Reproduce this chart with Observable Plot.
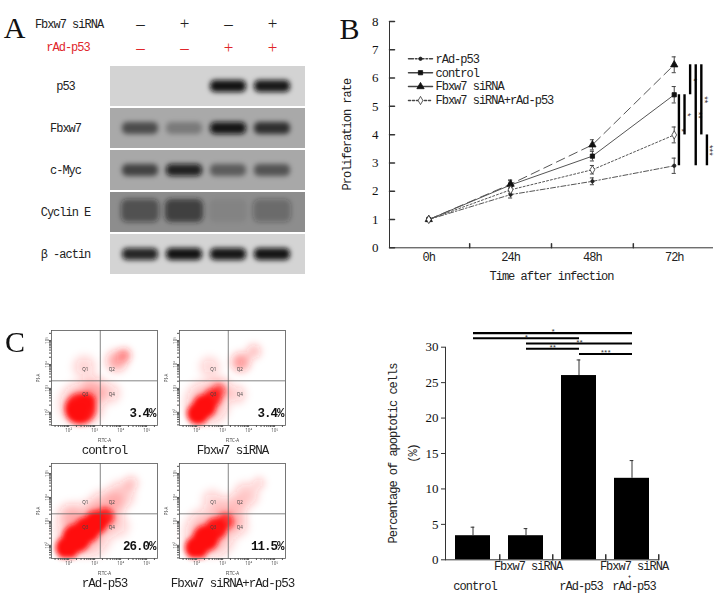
<!DOCTYPE html>
<html><head><meta charset="utf-8">
<script src="https://cdn.jsdelivr.net/npm/d3@7"></script>
<script src="https://cdn.jsdelivr.net/npm/@observablehq/plot@0.6"></script>
<style>
html,body{margin:0;padding:0;background:#fff;}
#fig{position:relative;width:723px;height:599px;overflow:hidden;background:#fff;}
#fig > div{position:absolute;}
#fig svg{overflow:visible;display:block;}
g[font-family="Liberation Mono"]{letter-spacing:-1px;}
</style></head><body><div id="fig"></div>
<script>
// ---------------- DATA ----------------
// Panel A: western blot
const lanes = ["1", "2", "3", "4"];
const siRNASigns = ["–", "+", "–", "+"];
const rAdSigns = ["–", "–", "+", "+"];
const proteins = ["p53", "Fbxw7", "c-Myc", "Cyclin E", "β -actin"];
const blotBackground = ["#d3d3d3", "#a9a9a9", "#a8a8a8", "#8d8d8d", "#d4d4d4"];
const bandP53 = [0, 0, 0.97, 0.94];
const bandFbxw7 = [0.55, 0.28, 0.95, 0.72];
const bandCMyc = [0.6, 0.88, 0.45, 0.5];
const bandCyclinE = [0.5, 0.68, 0.07, 0.3];
const bandActin = [0.88, 0.97, 0.95, 0.96];

// Panel B: proliferation
const timeLabels = ["0h", "24h", "48h", "72h"];
const seriesNames = ["rAd-p53", "control", "Fbxw7 siRNA", "Fbxw7 siRNA+rAd-p53"];
const rAdP53Rate = [1.00, 1.88, 2.35, 2.90];
const rAdP53Err = [0, 0.12, 0.12, 0.27];
const controlRate = [1.00, 2.22, 3.24, 5.41];
const controlErr = [0, 0.15, 0.17, 0.29];
const fbxw7Rate = [1.00, 2.25, 3.64, 6.47];
const fbxw7Err = [0, 0.15, 0.18, 0.28];
const comboRate = [1.00, 2.05, 2.76, 3.99];
const comboErr = [0, 0.12, 0.15, 0.28];
const yTicksB = [0, 1, 2, 3, 4, 5, 6, 7, 8];
// significance brackets at 72h: [series a, series b, label]
const sigB = [
  ["control", "rAd-p53", "*"],
  ["control", "Fbxw7 siRNA+rAd-p53", "*"],
  ["Fbxw7 siRNA", "control", "*"],
  ["Fbxw7 siRNA", "rAd-p53", "**"],
  ["Fbxw7 siRNA", "Fbxw7 siRNA+rAd-p53", "**"],
  ["Fbxw7 siRNA+rAd-p53", "rAd-p53", "***"]
];

// Panel C: apoptosis
const groups = ["control", "Fbxw7 siRNA", "rAd-p53", "Fbxw7 siRNA+rAd-p53"];
const apoptosis = [3.4, 3.4, 26.0, 11.5];
const apoptosisErr = [1.2, 1.0, 2.2, 2.5];
const groupLabelTop = ["", "Fbxw7 siRNA", "", "Fbxw7 siRNA"];
const groupLabelJoin = ["", "", "", "+"];
const groupLabelBottom = ["control", "", "rAd-p53", "rAd-p53"];
const yTicksC = [0, 5, 10, 15, 20, 25, 30];
const sigC = [
  ["control", "Fbxw7 siRNA+rAd-p53", "*"],
  ["control", "rAd-p53", "*"],
  ["Fbxw7 siRNA", "Fbxw7 siRNA+rAd-p53", "**"],
  ["Fbxw7 siRNA", "rAd-p53", "**"],
  ["rAd-p53", "Fbxw7 siRNA+rAd-p53", "***"]
];

// Panel C: flow cytometry (Annexin V-FITC / PI)
const flowTitles = ["control", "Fbxw7 siRNA", "rAd-p53", "Fbxw7 siRNA+rAd-p53"];
const flowCol = [0, 1, 0, 1];
const flowRow = [0, 0, 1, 1];
const flowPercent = ["3.4%", "3.4%", "26.0%", "11.5%"];
const gateFITC = 1650, gatePI = 2075;
const quadrantNames = ["Q1", "Q2", "Q3", "Q4"];
const quadrantFITC = [440, 4600, 440, 4600];
const quadrantPI = [6300, 6300, 550, 550];
// event clouds: [log10 FITC, log10 PI, spread (decades), density]
const controlCloud = [[2.5,2.35,1.05,0.45],[3.0,3.0,0.65,0.3],[2.6,3.9,0.6,0.22],[3.6,2.8,0.55,0.22],[3.85,4.15,0.55,0.45],[4.15,4.4,0.35,0.55],[2.45,2.15,0.6,0.9],[2.35,2.05,0.45,1],[2.7,2.45,0.35,0.9]];
const fbxw7Cloud = [[2.4,2.4,1.05,0.42],[2.9,3.0,0.6,0.3],[2.5,3.9,0.55,0.2],[3.55,2.75,0.5,0.22],[3.7,4.1,0.5,0.5],[4.2,4.55,0.4,0.3],[2.05,1.95,0.42,1],[2.3,2.25,0.45,1],[2.6,2.6,0.35,0.85],[2.85,2.9,0.25,0.6]];
const rAdCloud = [[2.6,2.6,1.3,0.45],[3.4,3.5,0.9,0.4],[4.0,4.1,0.7,0.3],[2.0,3.3,0.6,0.2],[3.9,2.8,0.6,0.2],[4.4,4.6,0.4,0.25],[1.95,1.9,0.45,1],[2.3,2.3,0.55,1],[2.7,2.65,0.5,1],[3.05,2.95,0.45,1],[3.4,3.2,0.35,0.85]];
const comboCloud = [[2.5,2.5,1.2,0.45],[3.3,3.4,0.8,0.36],[3.9,4.1,0.65,0.28],[2.6,3.9,0.55,0.2],[3.6,2.8,0.55,0.22],[4.4,4.6,0.35,0.2],[2.0,1.9,0.45,1],[2.35,2.3,0.5,1],[2.75,2.7,0.42,0.95],[3.1,3.0,0.32,0.75]];

// ---------------- HELPERS ----------------
const SERIF = "Liberation Serif", MONO = "Liberation Mono";
const fig = document.getElementById("fig");
function place(svg, left, top) {
  const d = document.createElement("div");
  d.style.left = left + "px"; d.style.top = top + "px";
  d.appendChild(svg); fig.appendChild(d); return svg;
}
function defs(svg) {
  const s = d3.select(svg);
  let g = s.select("defs");
  if (g.empty()) g = s.insert("defs", ":first-child");
  return g;
}
function blur(svg, id, sd, groups) {
  defs(svg).append("filter").attr("id", id)
    .attr("x", "-40%").attr("y", "-40%").attr("width", "180%").attr("height", "180%")
    .append("feGaussianBlur").attr("stdDeviation", sd);
  groups.forEach(g => d3.select(g).attr("filter", `url(#${id})`));
}
const tickShape = {draw(ctx, l) { ctx.moveTo(0, 0); ctx.lineTo(0, -l); }};

// ---------------- PANEL A ----------------
const bandLevels = [bandP53, bandFbxw7, bandCMyc, bandCyclinE, bandActin];
const rowsA = proteins.map((p, i) => ({protein: p, bg: blotBackground[i]}));
const bandsA = proteins.flatMap((p, r) => lanes.map((l, i) => ({protein: p, lane: l, v: bandLevels[r][i]})));
const svgA = Plot.plot({
  width: 330, height: 290, marginLeft: 110, marginRight: 25, marginTop: 64, marginBottom: 14,
  x: {type: "band", domain: lanes, paddingInner: 0, paddingOuter: 0.186, align: 0.4, axis: null},
  y: {type: "band", domain: proteins, paddingInner: 0.05, paddingOuter: 0, axis: null},
  color: {type: "identity"},
  opacity: {type: "identity"},
  marks: [
    Plot.cell(rowsA, {y: "protein", fill: "bg"}),
    Plot.cell(bandsA.filter(d => d.protein !== "Cyclin E"), {x: "lane", y: "protein", fill: "#080808", fillOpacity: "v",
      insetLeft: 4, insetRight: 4, insetTop: 14, insetBottom: 14, rx: 5}),
    Plot.cell(bandsA.filter(d => d.protein === "Cyclin E"), {x: "lane", y: "protein", fill: "#181818", fillOpacity: "v",
      insetLeft: 3, insetRight: 3, insetTop: 7, insetBottom: 10, rx: 6}),
    Plot.text(proteins, {y: d => d, text: d => d, frameAnchor: "left", dx: -45, textAnchor: "middle", lineAnchor: "middle",
      fontFamily: MONO, fontSize: 12, fill: "#222"}),
    Plot.text(lanes, {x: d => d, text: (d, i) => siRNASigns[i], frameAnchor: "top", dy: -40.7, textAnchor: "middle", lineAnchor: "middle",
      fontFamily: SERIF, fontSize: 17, fill: "#222"}),
    Plot.text(lanes, {x: d => d, text: (d, i) => rAdSigns[i], frameAnchor: "top", dy: -17.3, textAnchor: "middle", lineAnchor: "middle",
      fontFamily: SERIF, fontSize: 17, fill: "#e0262b"}),
    Plot.text(["Fbxw7 siRNA"], {text: d => d, frameAnchor: "top-left", dx: -41.5, dy: -40.7, textAnchor: "middle", lineAnchor: "middle",
      fontFamily: MONO, fontSize: 12, fill: "#222"}),
    Plot.text(["rAd-p53"], {text: d => d, frameAnchor: "top-left", dx: -42.5, dy: -17.3, textAnchor: "middle", lineAnchor: "middle",
      fontFamily: MONO, fontSize: 12, fill: "#e0262b"}),
    Plot.text(["A"], {text: d => d, frameAnchor: "top-left", dx: -96, dy: -35.7, textAnchor: "middle", lineAnchor: "middle",
      fontFamily: SERIF, fontSize: 30, fill: "#111"})
  ]
});
place(svgA, 0, 0);
blur(svgA, "blurA", 2.4, Array.from(svgA.querySelectorAll('g[aria-label="cell"]')).slice(1));

// ---------------- PANEL B ----------------
const ratesB = [rAdP53Rate, controlRate, fbxw7Rate, comboRate];
const errsB = [rAdP53Err, controlErr, fbxw7Err, comboErr];
const styleB = [
  {dash: "5,2,1.5,2", legendDash: "5,2,1.5,2", symbol: "circle", r: 1.7, fill: "#222", stroke: "#222"},
  {dash: null, legendDash: null, symbol: "square", r: 2.4, fill: "#111", stroke: "#111"},
  {dash: "9,5", legendDash: null, symbol: "triangle", r: 2.7, fill: "#111", stroke: "#111"},
  {dash: "2,2", legendDash: "2,2", symbol: "diamond", r: 2.5, fill: "white", stroke: "#333"}
];
const ptsB = seriesNames.map((name, s) => ratesB[s].map((v, t) => ({name, t, v, e: errsB[s][t]})));
const xDomB = [-0.48, 3.48];
const marksB = [
  Plot.ruleY([0], {stroke: "#333"}),
  Plot.ruleX([xDomB[0]], {stroke: "#333"}),
  Plot.vector(yTicksB, {x: () => xDomB[0], y: d => d, length: 5, rotate: 90, anchor: "start", shape: tickShape, stroke: "#333"}),
  Plot.vector([0.5, 1.5, 2.5], {x: d => d, y: () => 0, length: 4, anchor: "start", shape: tickShape, stroke: "#333"}),
  Plot.axisY({ticks: yTicksB, tickSize: 0, tickPadding: 11, fontFamily: SERIF, fontSize: 13, label: null, fill: "#111"}),
  Plot.axisX({ticks: [0, 1, 2, 3], tickFormat: i => timeLabels[i], tickSize: 0, tickPadding: 5, fontFamily: MONO, fontSize: 12, label: null, fill: "#222"})
];
ptsB.forEach((pts, s) => {
  const st = styleB[s];
  marksB.push(
    Plot.line(pts, {x: "t", y: "v", stroke: "#555", strokeWidth: 1, strokeDasharray: st.dash}),
    Plot.ruleX(pts.filter(d => d.e > 0), {x: "t", y1: d => d.v - d.e, y2: d => d.v + d.e, stroke: "#444"}),
    Plot.ruleY(pts.filter(d => d.e > 0), {y: d => d.v + d.e, x1: d => d.t - 0.025, x2: d => d.t + 0.025, stroke: "#444"}),
    Plot.ruleY(pts.filter(d => d.e > 0), {y: d => d.v - d.e, x1: d => d.t - 0.025, x2: d => d.t + 0.025, stroke: "#444"}),
    Plot.dot(pts, {x: "t", y: "v", symbol: st.symbol, r: st.r, fill: st.fill, stroke: st.stroke, strokeWidth: 0.8})
  );
  // legend row
  const dy = 37.3 + 13.9 * s;
  marksB.push(
    Plot.vector([seriesNames[s]], {frameAnchor: "top-left", dx: 31, dy, length: 24, rotate: 90, anchor: "middle", shape: tickShape,
      stroke: "#444", strokeDasharray: st.legendDash}),
    Plot.dot([seriesNames[s]], {frameAnchor: "top-left", dx: 31, dy, symbol: st.symbol, r: st.r, fill: st.fill, stroke: st.stroke, strokeWidth: 0.8}),
    Plot.text([seriesNames[s]], {text: d => d, frameAnchor: "top-left", dx: 46, dy, textAnchor: "start", lineAnchor: "middle",
      fontFamily: MONO, fontSize: 12, fill: "#222"})
  );
});
const at72 = name => ratesB[seriesNames.indexOf(name)][3];
sigB.forEach(([a, b, lab], i) => {
  const dx = 4.7 + 5.6 * i;
  const rec = {y1: at72(a), y2: at72(b)};
  marksB.push(
    Plot.ruleX([rec], {x: () => 3, y1: "y1", y2: "y2", dx, stroke: "#000", strokeWidth: 2.4}),
    Plot.text([rec], {x: () => 3, y: d => (d.y1 + d.y2) / 2, text: () => lab, dx: dx + 3.6, rotate: 90,
      textAnchor: "middle", lineAnchor: "middle", fontSize: 6.5, fill: "#222"})
  );
});
marksB.push(
  Plot.text(["Proliferation rate"], {text: d => d, frameAnchor: "left", dx: -42, rotate: -90, textAnchor: "middle", lineAnchor: "middle",
    fontFamily: MONO, fontSize: 12, fill: "#222"}),
  Plot.text(["Time after infection"], {text: d => d, frameAnchor: "bottom", dy: 28.7, textAnchor: "middle", lineAnchor: "middle",
    fontFamily: MONO, fontSize: 12, fill: "#222"}),
  Plot.text(["B"], {text: d => d, frameAnchor: "top-left", dx: -40, dy: 7.7, textAnchor: "middle", lineAnchor: "middle",
    fontFamily: SERIF, fontSize: 30, fill: "#111"})
);
const svgB = Plot.plot({
  width: 393, height: 290, marginLeft: 59, marginRight: 10, marginTop: 21, marginBottom: 42.7,
  x: {domain: xDomB},
  y: {domain: [0, 8]},
  marks: marksB
});
place(svgB, 330, 0);

// ---------------- PANEL C: bar chart ----------------
const dataC = groups.map((g, i) => ({g, v: apoptosis[i], e: apoptosisErr[i]}));
const wC = 343, mlC = 65, mrC = 64, piC = 0.34, poC = 0.17;
const stepC = (wC - mlC - mrC) / (groups.length - piC + 2 * poC);
const marksC = [
  Plot.barY(dataC, {x: "g", y: "v", fill: "#000"}),
  Plot.ruleX(dataC, {x: "g", y1: "v", y2: d => d.v + d.e, stroke: "#333"}),
  Plot.tickY(dataC, {x: "g", y: d => d.v + d.e, inset: stepC * (1 - piC) / 2 - 2, stroke: "#333"}),
  Plot.ruleY([0], {stroke: "#333"}),
  Plot.frame({anchor: "left", stroke: "#333"}),
  Plot.vector(groups, {x: d => d, y: () => 0, dx: stepC / 2, length: 5, anchor: "start", shape: tickShape, stroke: "#333"}),
  Plot.axisY({ticks: yTicksC, tickSize: 4, tickPadding: 3, fontFamily: SERIF, fontSize: 13, label: null, fill: "#111", stroke: "#333"}),
  Plot.text(groups, {x: d => d, text: (d, i) => groupLabelTop[i], frameAnchor: "bottom", dy: 6.4, dx: 2, textAnchor: "middle", lineAnchor: "middle",
    fontFamily: MONO, fontSize: 12, fill: "#222"}),
  Plot.text(groups, {x: d => d, text: (d, i) => groupLabelJoin[i], frameAnchor: "bottom", dy: 16.9, dx: -3, textAnchor: "middle", lineAnchor: "middle",
    fontFamily: MONO, fontSize: 5, fontWeight: "bold", fill: "#222"}),
  Plot.text(groups, {x: d => d, text: (d, i) => groupLabelBottom[i], frameAnchor: "bottom", dy: 26.7, dx: 2, textAnchor: "middle", lineAnchor: "middle",
    fontFamily: MONO, fontSize: 12, fill: "#222"}),
  Plot.text(["Percentage of apoptotic cells"], {text: d => d, frameAnchor: "left", dx: -52, rotate: -90, textAnchor: "middle", lineAnchor: "middle",
    fontFamily: MONO, fontSize: 12, fill: "#222"}),
  Plot.text(["(%)"], {text: d => d, frameAnchor: "left", dx: -32, rotate: -90, textAnchor: "middle", lineAnchor: "middle",
    fontFamily: MONO, fontSize: 12, fill: "#222"})
];
sigC.forEach(([a, b, lab], i) => {
  const level = 32.0 - 0.74 * i;
  const half = (groups.indexOf(b) - groups.indexOf(a)) * stepC / 2;
  marksC.push(
    Plot.link([lab], {x1: () => a, x2: () => b, y1: () => level, y2: () => level, stroke: "#000", strokeWidth: 2.2}),
    Plot.text([lab], {x: () => a, y: () => level, text: d => d, dx: half, dy: -1.5, textAnchor: "middle", lineAnchor: "middle",
      fontSize: 6, fill: "#222"})
  );
});
const svgC = Plot.plot({
  width: wC, height: 309, marginLeft: mlC, marginRight: mrC, marginTop: 56.7, marginBottom: 39.7,
  x: {type: "band", domain: groups, paddingInner: piC, paddingOuter: poC, axis: null},
  y: {domain: [0, 30]},
  marks: marksC
});
place(svgC, 380, 290);

// ---------------- PANEL C: flow cytometry ----------------
const clouds = [controlCloud, fbxw7Cloud, rAdCloud, comboCloud];
const events = clouds.flatMap((c, p) => c.map(([lx, ly, spread, density]) => ({col: flowCol[p], row: flowRow[p], lx, ly, spread, density})));
const halo = events.filter(d => d.density < 0.6);
const core = events.filter(d => d.density >= 0.6);
const panels = flowTitles.map((t, p) => ({title: t, col: flowCol[p], row: flowRow[p], pct: flowPercent[p]}));
const supers = {1: "¹", 2: "²", 3: "³", 4: "⁴", 5: "⁵"};
const powLabel = d => { const l = Math.log10(d); return Math.abs(l - Math.round(l)) < 1e-6 ? "10" + (supers[Math.round(l)] || "") : ""; };
const svgF = Plot.plot({
  width: 300, height: 284, marginLeft: 51, marginRight: 14, marginTop: 14.3, marginBottom: 40.7,
  fx: {domain: [0, 1], paddingInner: 0.168, paddingOuter: 0, axis: null},
  fy: {domain: [0, 1], paddingInner: 0.282, paddingOuter: 0, axis: null},
  x: {type: "log", domain: [10 ** 1.34, 10 ** 5.42]},
  y: {type: "log", domain: [10 ** 1.45, 10 ** 5.42]},
  r: {type: "linear", domain: [0, 1], range: [0, 26.1]},
  opacity: {type: "identity"},
  marks: [
    Plot.dot(halo, {fx: "col", fy: "row", x: d => 10 ** d.lx, y: d => 10 ** d.ly, r: "spread", fill: "url(#flowHalo)", fillOpacity: "density", stroke: null, clip: true}),
    Plot.dot(core, {fx: "col", fy: "row", x: d => 10 ** d.lx, y: d => 10 ** d.ly, r: "spread", fill: "#ff1010", fillOpacity: "density", stroke: null, clip: true}),
    Plot.ruleX([gateFITC], {stroke: "#666", strokeWidth: 0.8}),
    Plot.ruleY([gatePI], {stroke: "#666", strokeWidth: 0.8}),
    Plot.frame({stroke: "#555", strokeWidth: 0.8}),
    Plot.axisX({ticks: 40, tickSize: 2, tickPadding: 1, fontSize: 4.5, tickFormat: powLabel, facetAnchor: null, label: null, stroke: "#555", fill: "#555"}),
    Plot.axisY({ticks: 40, tickSize: 2, tickPadding: 1, fontSize: 4.5, tickFormat: powLabel, tickRotate: -90, facetAnchor: null, label: null, stroke: "#555", fill: "#555"}),
    Plot.text(quadrantNames, {x: (d, i) => quadrantFITC[i], y: (d, i) => quadrantPI[i], text: d => d, fontSize: 4.5, fill: "#444"}),
    Plot.text(["FITC-A"], {text: d => d, frameAnchor: "bottom", dy: 15, textAnchor: "middle", lineAnchor: "middle", fontSize: 4.5, fill: "#444"}),
    Plot.text(["PI-A"], {text: d => d, frameAnchor: "left", dx: -13, rotate: -90, textAnchor: "middle", lineAnchor: "middle", fontSize: 4.5, fill: "#444"}),
    Plot.text(panels, {fx: "col", fy: "row", text: "pct", frameAnchor: "bottom-right", dx: -2, dy: -12.3, textAnchor: "end", lineAnchor: "middle",
      fontWeight: "bold", fontFamily: MONO, fontSize: 12.5, fill: "#111"}),
    Plot.text(panels, {fx: "col", fy: "row", text: "title", frameAnchor: "bottom", dy: 24.5, textAnchor: "middle", lineAnchor: "middle",
      fontFamily: MONO, fontSize: 12.5, fill: "#222"}),
    Plot.text(panels.slice(0, 1), {fx: "col", fy: "row", text: () => "C", frameAnchor: "top-left", dx: -36.5, dy: 11.5, textAnchor: "middle", lineAnchor: "middle",
      fontFamily: SERIF, fontSize: 30, fill: "#111"})
  ]
});
place(svgF, 0, 315);
{
  const g = defs(svgF).append("radialGradient").attr("id", "flowHalo");
  [[0, 1], [0.45, 0.7], [0.8, 0.25], [1, 0]].forEach(([o, a]) =>
    g.append("stop").attr("offset", o).attr("stop-color", "#ff2020").attr("stop-opacity", a));
  const dots = Array.from(svgF.querySelectorAll('g[aria-label="dot"]'));
  blur(svgF, "blurHalo", 3, dots.filter((d, i) => i % 2 === 0));
  blur(svgF, "blurCore", 2.4, dots.filter((d, i) => i % 2 === 1));
}
</script></body></html>
